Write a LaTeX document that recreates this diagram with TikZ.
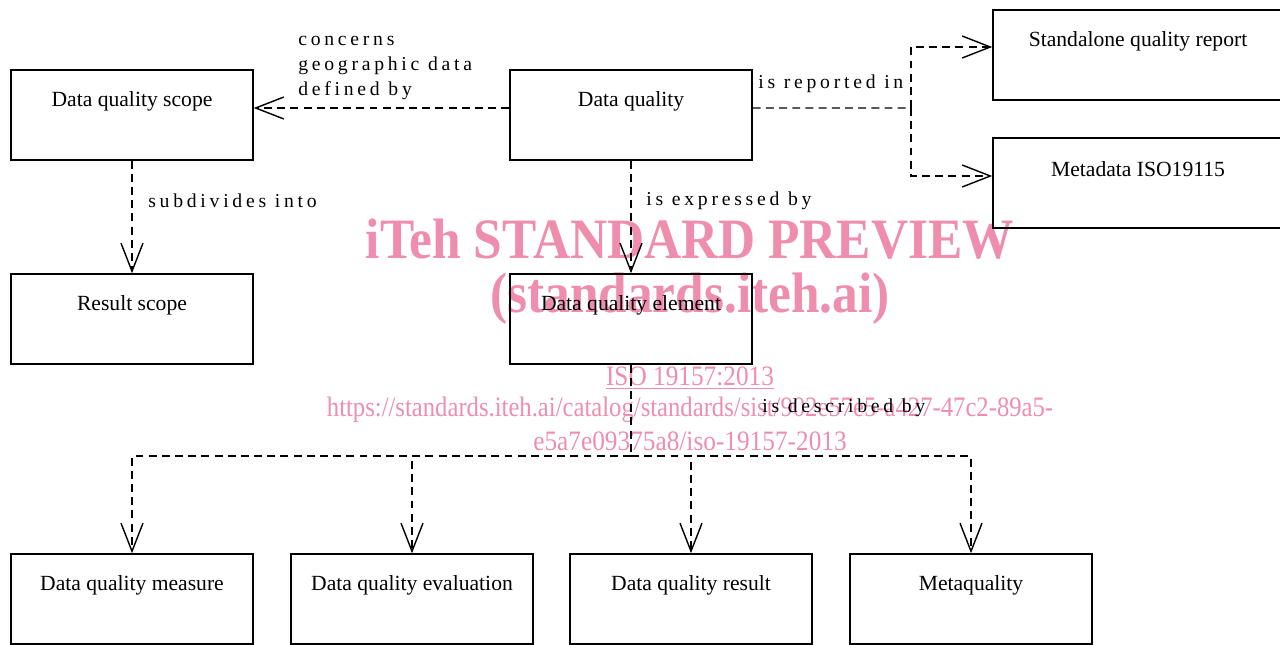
\documentclass[tikz,border=0pt]{standalone}
\usepackage{fontspec}
\setmainfont{Liberation Serif}
\newfontfamily\relfont[LetterSpace=19]{Liberation Serif}
\usetikzlibrary{arrows.meta}
\definecolor{wmpink}{RGB}{238,142,172}
\begin{document}
\begin{tikzpicture}[x=0.02cm,y=-0.02cm,
  box/.style={draw,line width=0.9pt,minimum width=4.84cm,minimum height=1.8cm,inner sep=0pt},
  boxtext/.style={font=\fontsize{12.3}{15}\selectfont,inner sep=0pt,yshift=0.27cm},
  rel/.style={line width=0.8pt,dash pattern=on 4.5pt off 3pt},
  barb/.style={-{Straight Barb[length=16pt,width=12.5pt,line width=0.8pt]}},
  lbl/.style={font=\relfont\fontsize{11.2}{14}\selectfont,anchor=west,inner sep=0pt,align=left},
  wmbig/.style={text=wmpink,font=\bfseries\fontsize{32.5}{34}\selectfont,xscale=0.9,inner sep=0pt},
  wmsmall/.style={text=wmpink,font=\fontsize{16}{18}\selectfont,xscale=0.9,inner sep=0pt}]
\useasboundingbox (0,0) rectangle (1280,645);
\clip (0,0) rectangle (1280,645);

% preview stamp behind the diagram
\node[wmbig] (wm1) at (690,239) {iTeh STANDARD PREVIEW};
\node[wmbig] (wm2) at (690,299) {(standards.iteh.ai)};
\node[wmsmall] (wm3) at (690,378) {\underline{ISO 19157:2013}};
\node[wmsmall,xscale=0.975] (wm4) at (690,410) {https://standards.iteh.ai/catalog/standards/sist/902e57e5-a427-47c2-89a5-};
\node[wmsmall] (wm5) at (690,441) {e5a7e09375a8/iso-19157-2013};

% classes
\node[box,label={[boxtext,name=t-dqs]center:Data quality scope}] (dqs) at (132,115) {};
\node[box,label={[boxtext,name=t-dq]center:Data quality}] (dq) at (631,115) {};
\node[box,minimum width=5.8cm,label={[boxtext,name=t-sqr]center:Standalone quality report}] (sqr) at (1138,55) {};
\node[box,minimum width=5.8cm,label={[boxtext,name=t-md]center:Metadata ISO19115}] (md) at (1138,183) {};
\node[box,label={[boxtext,name=t-rs]center:Result scope}] (rs) at (132,319) {};
\node[box,label={[boxtext,name=t-dqe]center:Data quality element}] (dqe) at (631,319) {};
\node[box,label={[boxtext,name=t-meas]center:Data quality measure}] (meas) at (132,599) {};
\node[box,label={[boxtext,name=t-eval]center:Data quality evaluation}] (eval) at (412,599) {};
\node[box,label={[boxtext,name=t-res]center:Data quality result}] (res) at (691,599) {};
\node[box,label={[boxtext,name=t-meta]center:Metaquality}] (meta) at (971,599) {};

% associations
\draw[rel,barb] ([yshift=0.14cm]dq.west) -- ([yshift=0.14cm]dqs.east);
\coordinate (rep) at (911,108);
\draw[rel] ([yshift=0.14cm]dq.east) -- (rep);
\draw[rel,barb] (rep) |- ([yshift=0.16cm]sqr.west);
\draw[rel,barb] (rep) |- ([yshift=0.14cm]md.west);
\draw[rel,barb] (dqs.south) -- (rs.north);
\draw[rel,barb] (dq.south) -- (dqe.north);
\coordinate (desc) at (631,456);
\draw[rel] (dqe.south) -- (desc);
\draw[rel,barb] (desc) -| (meas.north);
\draw[rel,barb] (desc) -| (eval.north);
\draw[rel,barb] (desc) -| (res.north);
\draw[rel,barb] (desc) -| (meta.north);

% association labels
\node[lbl] (l-geo) at (298,68) {concerns\\geographic data\\defined by};
\node[lbl] (l-rep) at (758,84) {is reported in};
\node[lbl] (l-sub) at (148,201) {subdivides into};
\node[lbl] (l-exp) at (646,201) {is expressed by};
\node[lbl] (l-desc) at (762,408) {is described by};
\end{tikzpicture}
\end{document}
